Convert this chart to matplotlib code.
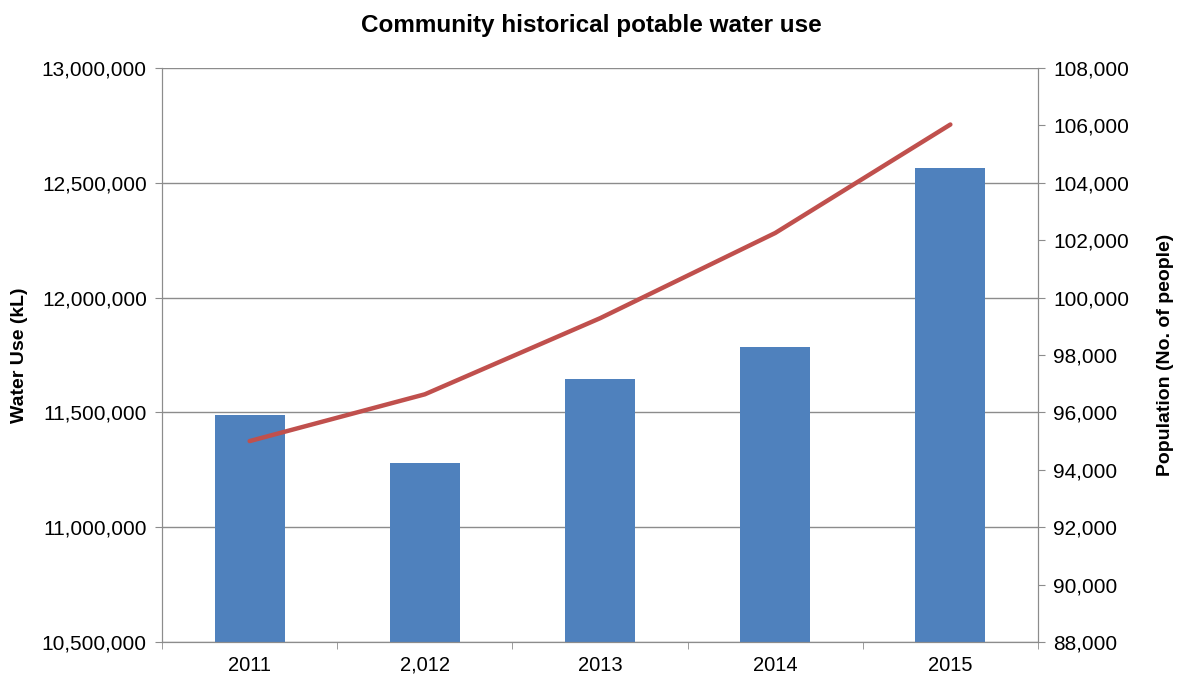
import matplotlib.pyplot as plt
import numpy as np
from matplotlib.ticker import FuncFormatter, MultipleLocator

plt.rcParams['font.family'] = ['Liberation Sans', 'DejaVu Sans']

# data
years = ['2011', '2,012', '2013', '2014', '2015']
water_use = [11489000, 11281000, 11645000, 11785000, 12563000]
population = [95000, 96630, 99280, 102250, 106030]

fig = plt.figure(figsize=(11.83, 6.77), dpi=100)
ax = fig.add_axes([0.137, 0.0517, 0.7404, 0.8479])
ax2 = ax.twinx()

x = np.arange(len(years))
ax.bar(x, water_use, width=0.4, color='#4F81BD', zorder=2)
ax2.plot(x, population, color='#C0504D', lw=3.2, solid_capstyle='round', zorder=3)

ax.set_xlim(-0.5, len(years) - 0.5)
ax.set_ylim(10500000, 13000000)
ax.yaxis.set_major_locator(MultipleLocator(500000))
ax.yaxis.set_major_formatter(FuncFormatter(lambda v, p: f'{int(v):,}'))
ax2.set_ylim(88000, 108000)
ax2.yaxis.set_major_locator(MultipleLocator(2000))
ax2.yaxis.set_major_formatter(FuncFormatter(lambda v, p: f'{int(v):,}'))

ax.grid(axis='y', color='#8c8c8c', lw=1, zorder=0)
ax.set_axisbelow(True)

ax.set_xticks(x)
ax.set_xticklabels(years)
ax.set_xticks(np.arange(-0.5, len(years)), minor=True)
ax.tick_params(axis='x', which='major', length=0, labelsize=14.5, pad=10)
ax.tick_params(axis='x', which='minor', length=5, color='#8c8c8c')
ax.tick_params(axis='y', length=5, color='#8c8c8c', labelsize=15, pad=6)
ax2.tick_params(axis='y', length=5, color='#8c8c8c', labelsize=15, pad=6)

for a in (ax, ax2):
    a.spines['top'].set_visible(False)
    for s in ('left', 'right', 'bottom'):
        a.spines[s].set_color('#8c8c8c')

ax.set_ylabel('Water Use (kL)', fontsize=14, fontweight='bold', labelpad=10)
ax2.set_ylabel('Population (No. of people)', fontsize=14, fontweight='bold', labelpad=20)
fig.suptitle('Community historical potable water use', fontsize=17.5, fontweight='bold', y=0.98)

fig.savefig('out.png', dpi=100)
